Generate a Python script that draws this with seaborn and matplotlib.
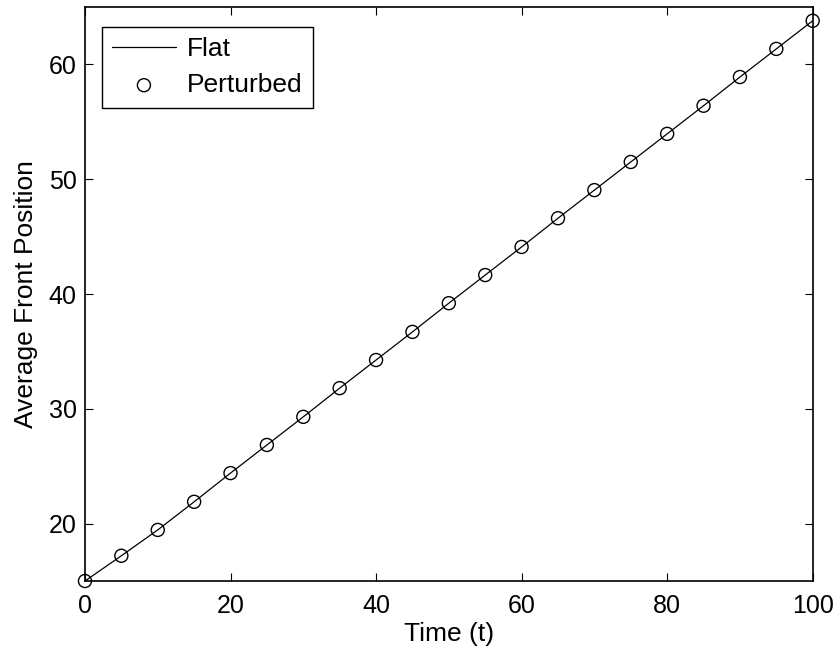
import matplotlib
matplotlib.use("Agg")
import matplotlib.pyplot as plt
import seaborn as sns
import pandas as pd

time_t = [0, 5, 10, 15, 20, 25, 30, 35, 40, 45, 50, 55, 60, 65, 70, 75, 80, 85, 90, 95, 100]
flat = [15.0, 17.2, 19.45, 21.9, 24.4, 26.85, 29.3, 31.8, 34.25, 36.7, 39.2, 41.65,
        44.1, 46.6, 49.05, 51.5, 53.95, 56.4, 58.9, 61.35, 63.8]
perturbed = [15.0, 17.2, 19.45, 21.9, 24.4, 26.85, 29.3, 31.8, 34.25, 36.7, 39.2, 41.65,
             44.1, 46.6, 49.05, 51.5, 53.95, 56.4, 58.9, 61.35, 63.8]
x_ticks = [0, 20, 40, 60, 80, 100]
y_ticks = [20, 30, 40, 50, 60]

sns.set_style("ticks")
plt.rcParams['font.family'] = ['Liberation Sans', 'DejaVu Sans']
plt.rcParams['text.color'] = 'black'
plt.rcParams['axes.labelcolor'] = 'black'

df = pd.DataFrame({"t": time_t, "flat": flat, "perturbed": perturbed})

fig = plt.figure(figsize=(8.38, 6.54), dpi=100)
ax = fig.add_axes([0.1014, 0.1116, 0.8684, 0.8777])

sns.lineplot(data=df, x="t", y="flat", ax=ax, color="black", linewidth=0.9, label="Flat")
sns.scatterplot(data=df, x="t", y="perturbed", ax=ax, marker="o", s=88,
                facecolors="none", edgecolor="black", linewidth=1.0, label="Perturbed",
                clip_on=False, zorder=3)

ax.set_xlim(0, 100)
ax.set_ylim(15, 65)
ax.set_xticks(x_ticks)
ax.set_yticks(y_ticks)
ax.tick_params(direction="in", length=6, width=0.8, labelsize=18, top=True, right=True,
               colors="black")
ax.tick_params(axis="x", pad=9.5)
ax.tick_params(axis="y", pad=6)
for s in ax.spines.values():
    s.set_visible(True)
    s.set_linewidth(1.2)
    s.set_color("black")
ax.set_xlabel("Time (t)", fontsize=19, labelpad=3)
ax.set_ylabel("Average Front Position", fontsize=19, labelpad=8)

leg = ax.legend(loc="upper left", fontsize=19, frameon=True, fancybox=False,
                edgecolor="black", handlelength=2.4, borderpad=0.4, labelspacing=0.45,
                handletextpad=0.42, bbox_to_anchor=(0.023, 0.9657), borderaxespad=0)
leg.get_frame().set_linewidth(1.0)
leg.get_frame().set_alpha(1)

fig.savefig("out.png", dpi=100)
